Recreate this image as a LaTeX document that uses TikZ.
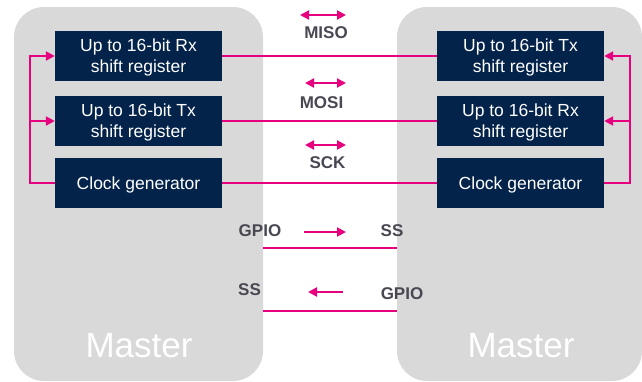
\documentclass[tikz,border=0pt]{standalone}
\usepackage{fontspec}
\setmainfont{Liberation Sans}
\usetikzlibrary{arrows.meta}
\definecolor{stnavy}{RGB}{3,35,75}
\definecolor{stpink}{RGB}{230,0,126}
\definecolor{panelgray}{RGB}{217,217,217}
\definecolor{labelgray}{RGB}{72,72,82}
\begin{document}
\begin{tikzpicture}[x=1pt,y=-1pt,>={Triangle[length=9pt,width=9pt]}]
	\tikzstyle{panel}=[fill=panelgray,rounded corners=30pt,minimum height=374pt,inner sep=0pt,outer sep=0pt]
	\tikzstyle{reg}=[fill=stnavy,text=white,minimum width=167pt,minimum height=50pt,align=center,inner sep=0pt,text depth=0pt,font=\fontsize{17.5}{21}\selectfont]
	\tikzstyle{sig}=[text=labelgray,inner sep=0pt,font=\fontsize{17}{20}\selectfont\bfseries]
	\tikzstyle{wire}=[draw=stpink,line width=2pt]
	\tikzstyle{mst}=[text=white,anchor=base,inner sep=0pt,font=\fontsize{35}{40}\selectfont]
	\useasboundingbox (0,0) rectangle (642,381);
	% the two masters
	\node[panel,minimum width=249pt] (pl) at (138.5,194) {};
	\node[panel,minimum width=245pt] (pr) at (519.5,194) {};
	\node[mst] (ml) at (139,357) {Master};
	\node[mst] (mr) at (521,357) {Master};
	% registers
	\node[reg] (rxl) at (138.5,56) {Up to 16-bit Rx\\shift register};
	\node[reg] (txl) at (138.5,121) {Up to 16-bit Tx\\shift register};
	\node[reg] (clkl) at (138.5,183) {Clock generator};
	\node[reg] (txr) at (520.5,56) {Up to 16-bit Tx\\shift register};
	\node[reg] (rxr) at (520.5,121) {Up to 16-bit Rx\\shift register};
	\node[reg] (clkr) at (520.5,183) {Clock generator};
	% bus lines
	\draw[wire] (rxl) -- (txr);
	\draw[wire] (txl) -- (rxr);
	\draw[wire] (clkl) -- (clkr);
	% clock feedback
	\coordinate (fbl) at (30,183);
	\coordinate (fbr) at (630,183);
	\draw[wire,->] (clkl.west) -- (fbl) |- (rxl.west);
	\draw[wire,->] (fbl |- txl.west) -- (txl.west);
	\draw[wire,->] (clkr.east) -- (fbr) |- (txr.east);
	\draw[wire,->] (fbr |- rxr.east) -- (rxr.east);
	% signal names
	\node[sig] (miso) at (326,33) {MISO};
	\node[sig] (mosi) at (321.5,102.5) {MOSI};
	\node[sig] (sck) at (327.5,162.5) {SCK};
	\coordinate (misoa) at (300,15);
	\coordinate (misob) at (346,15);
	\coordinate (mosia) at (305,83);
	\coordinate (mosib) at (346,83);
	\coordinate (scka) at (305,145);
	\coordinate (sckb) at (346,145);
	\draw[wire,<->] (misoa) -- (misob);
	\draw[wire,<->] (mosia) -- (mosib);
	\draw[wire,<->] (scka) -- (sckb);
	% slave select
	\node[sig] (gpiol) at (260,231) {GPIO};
	\node[sig] (ssr) at (392,231) {SS};
	\node[sig] (ssl) at (249.5,290) {SS};
	\node[sig] (gpior) at (402,293.5) {GPIO};
	\coordinate (sel1) at (0,248);
	\coordinate (sel2) at (0,311);
	\draw[wire] (pl.east |- sel1) -- (pr.west |- sel1);
	\draw[wire] (pl.east |- sel2) -- (pr.west |- sel2);
	\coordinate (sela) at (304,232);
	\coordinate (selb) at (346,232);
	\coordinate (selc) at (343,292);
	\coordinate (seld) at (308,292);
	\draw[wire,->] (sela) -- (selb);
	\draw[wire,->] (selc) -- (seld);
\end{tikzpicture}
\end{document}
